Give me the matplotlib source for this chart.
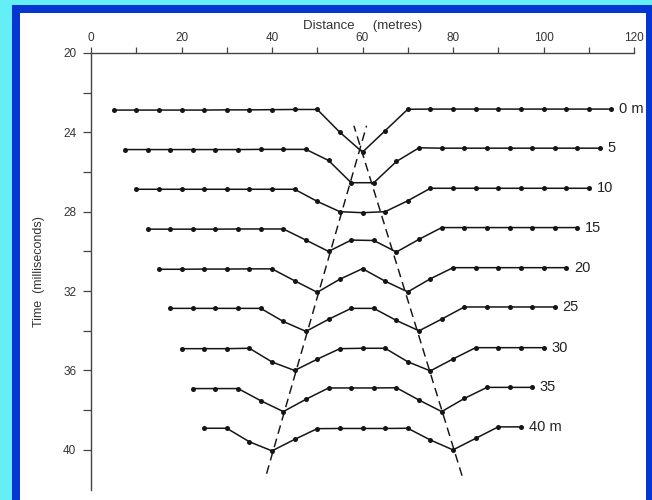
import matplotlib
matplotlib.use("Agg")
import matplotlib.pyplot as plt
from matplotlib.patches import Rectangle

plt.rcParams['font.family'] = ['Liberation Sans', 'DejaVu Sans']

# ---- data (distance in metres, time in milliseconds) ----
labels = ["0 m", "5", "10", "15", "20", "25", "30", "35", "40 m"]

dist_0 = [5, 10, 15, 20, 25, 30, 35, 40, 45, 50, 55, 60, 65, 70, 75, 80, 85, 90, 95, 100, 105, 110, 115]
time_0 = [22.88, 22.88, 22.88, 22.88, 22.88, 22.87, 22.87, 22.86, 22.85, 22.85, 24.0, 25.0, 23.92,
          22.84, 22.83, 22.83, 22.83, 22.83, 22.83, 22.83, 22.83, 22.83, 22.83]

dist_5 = [7.5, 12.5, 17.5, 22.5, 27.5, 32.5, 37.5, 42.5, 47.5, 52.5, 57.5, 62.5, 67.5, 72.5,
          77.5, 82.5, 87.5, 92.5, 97.5, 102.5, 107.5, 112.5]
time_5 = [24.87, 24.87, 24.87, 24.87, 24.87, 24.87, 24.86, 24.86, 24.86, 25.42, 26.54, 26.54, 25.47,
          24.78, 24.8, 24.8, 24.8, 24.8, 24.8, 24.8, 24.8, 24.8]

dist_10 = [10, 15, 20, 25, 30, 35, 40, 45, 50, 55, 60, 65, 70, 75, 80, 85, 90, 95, 100, 105, 110]
time_10 = [26.87, 26.87, 26.87, 26.87, 26.87, 26.87, 26.87, 26.87, 27.48, 28.0, 28.05, 28.0, 27.45,
           26.82, 26.82, 26.82, 26.82, 26.82, 26.82, 26.82, 26.82]

dist_15 = [12.5, 17.5, 22.5, 27.5, 32.5, 37.5, 42.5, 47.5, 52.5, 57.5, 62.5, 67.5, 72.5,
           77.5, 82.5, 87.5, 92.5, 97.5, 102.5, 107.5]
time_15 = [28.88, 28.88, 28.88, 28.88, 28.87, 28.87, 28.87, 29.43, 30.0, 29.43, 29.45, 30.03, 29.39,
           28.8, 28.8, 28.8, 28.8, 28.8, 28.8, 28.8]

dist_20 = [15, 20, 25, 30, 35, 40, 45, 50, 55, 60, 65, 70, 75, 80, 85, 90, 95, 100, 105]
time_20 = [30.9, 30.9, 30.89, 30.89, 30.88, 30.88, 31.48, 32.06, 31.4, 30.87, 31.5, 32.04, 31.38,
           30.82, 30.82, 30.82, 30.82, 30.82, 30.82]

dist_25 = [17.5, 22.5, 27.5, 32.5, 37.5, 42.5, 47.5, 52.5, 57.5, 62.5, 67.5, 72.5, 77.5,
           82.5, 87.5, 92.5, 97.5, 102.5]
time_25 = [32.87, 32.87, 32.87, 32.87, 32.87, 33.53, 34.03, 33.42, 32.87, 32.87, 33.48, 34.0, 33.41,
           32.8, 32.8, 32.8, 32.8, 32.8]

dist_30 = [20, 25, 30, 35, 40, 45, 50, 55, 60, 65, 70, 75, 80, 85, 90, 95, 100]
time_30 = [34.9, 34.9, 34.9, 34.88, 35.57, 36.0, 35.43, 34.9, 34.88, 34.88, 35.56, 36.02, 35.42,
           34.85, 34.85, 34.85, 34.85]

dist_35 = [22.5, 27.5, 32.5, 37.5, 42.5, 47.5, 52.5, 57.5, 62.5, 67.5, 72.5, 77.5, 82.5, 87.5, 92.5, 97.5]
time_35 = [36.91, 36.91, 36.91, 37.52, 38.07, 37.45, 36.88, 36.88, 36.88, 36.87, 37.49, 38.07, 37.41,
           36.85, 36.85, 36.85]

dist_40 = [25, 30, 35, 40, 45, 50, 55, 60, 65, 70, 75, 80, 85, 90, 95]
time_40 = [38.91, 38.91, 39.59, 40.05, 39.47, 38.93, 38.92, 38.92, 38.92, 38.91, 39.5, 40.0, 39.42,
           38.84, 38.84]

series_dist = [dist_0, dist_5, dist_10, dist_15, dist_20, dist_25, dist_30, dist_35, dist_40]
series_time = [time_0, time_5, time_10, time_15, time_20, time_25, time_30, time_35, time_40]

# dashed guide lines (end points)
dash_left_dist = [38.8, 60.9]
dash_left_time = [41.2, 23.67]
dash_right_dist = [82.0, 58.1]
dash_right_time = [41.3, 23.67]

x_ticks_major = [0, 20, 40, 60, 80, 100, 120]
x_ticks_minor = [10, 30, 50, 70, 90, 110]
y_ticks_major = [20, 24, 28, 32, 36, 40]
y_ticks_minor = [22, 26, 30, 34, 38]

# ---- figure ----
W, H = 652, 500
fig = plt.figure(figsize=(W / 100, H / 100), dpi=100)
fig.patch.set_facecolor('#64EEF5')

# background frame (slide decoration) drawn in a full-figure axes behind the chart
bg = fig.add_axes([0, 0, 1, 1], zorder=-10)
bg.set_xlim(0, W)
bg.set_ylim(H, 0)
bg.axis('off')
bg.add_patch(Rectangle((12, 5), W - 12, H - 5, facecolor='#0636D2', edgecolor='none'))
bg.add_patch(Rectangle((20, 13), 646 - 20, H - 13, facecolor='white', edgecolor='none'))

ax_left, ax_right, ax_top, ax_bottom = 91, 634, 52.9, 489.6
ax = fig.add_axes([ax_left / W, 1 - ax_bottom / H, (ax_right - ax_left) / W, (ax_bottom - ax_top) / H],
                  zorder=1)
ax.set_facecolor('none')

ink = '#151515'
for d, t, lab in zip(series_dist, series_time, labels):
    ax.plot(d, t, color=ink, lw=1.1, marker='o', markersize=3.6, markeredgewidth=0,
            markerfacecolor=ink, clip_on=False)
    ax.annotate(lab, xy=(d[-1], t[-1]), xytext=(5.5, 0), textcoords='offset points',
                va='center', ha='left', fontsize=10.5, color='#222222', annotation_clip=False)

ax.plot(dash_left_dist, dash_left_time, color=ink, lw=1.05, ls=(0, (6, 3.5)), clip_on=False)
ax.plot(dash_right_dist, dash_right_time, color=ink, lw=1.05, ls=(0, (6, 3.5)), clip_on=False)

ax.set_xlim(0, 120)
ax.set_ylim(42, 20)

ax.xaxis.tick_top()
ax.xaxis.set_label_position('top')
ax.set_xticks(x_ticks_major)
ax.set_xticks(x_ticks_minor, minor=True)
ax.set_yticks(y_ticks_major)
ax.set_yticks(y_ticks_minor, minor=True)

axis_col = '#444444'
ax.tick_params(axis='x', which='both', direction='out', length=4, width=0.9, color=axis_col,
               labelsize=8.5, labelcolor='#333333', pad=2.5)
ax.tick_params(axis='y', which='both', direction='out', length=5.5, width=0.9, color=axis_col,
               labelsize=8.5, labelcolor='#333333', pad=5)

for s in ['right', 'bottom']:
    ax.spines[s].set_visible(False)
for s in ['top', 'left']:
    ax.spines[s].set_color(axis_col)
    ax.spines[s].set_linewidth(1.0)

ax.set_xlabel('Distance     (metres)', fontsize=9.5, color='#333333', labelpad=2)
ax.set_ylabel('Time  (milliseconds)', fontsize=9, color='#333333', labelpad=13)

fig.savefig('out.png', dpi=100, facecolor=fig.get_facecolor())
